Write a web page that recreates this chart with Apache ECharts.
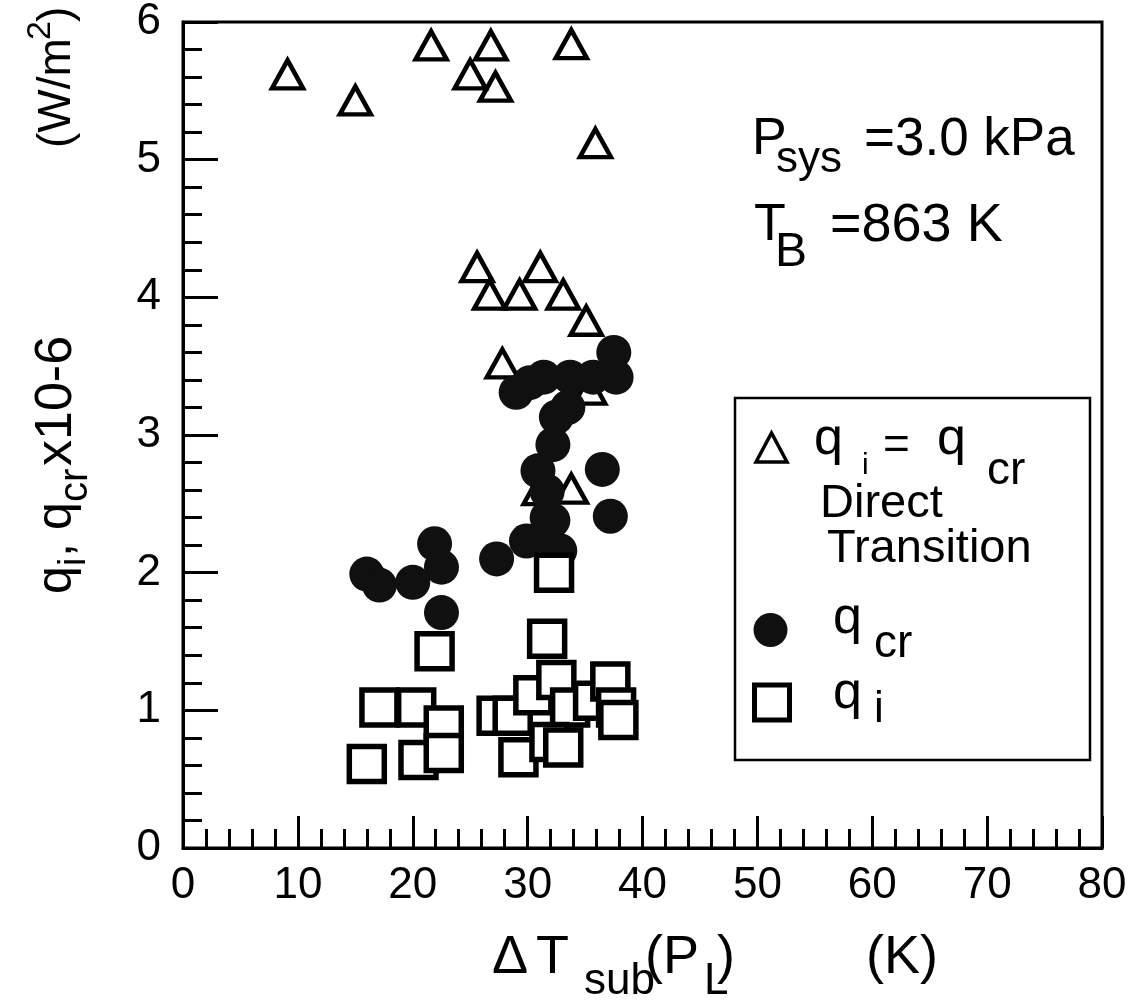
<!DOCTYPE html>
<html>
<head>
<meta charset="utf-8">
<title>Critical heat flux vs subcooling</title>
<script src="https://cdn.jsdelivr.net/npm/echarts@6/dist/echarts.min.js"></script>
<style>
  html, body { margin: 0; padding: 0; background: #fff; }
  #chart { width: 1142px; height: 1008px; }
</style>
</head>
<body>
<div id="chart"></div>
<script>
// ΔT_sub (K), q x10^-6 (W/m^2)
// Direct transition points (q_i = q_cr)
const directTransition = [
  [9.1, 5.62], [15.0, 5.43], [21.6, 5.83], [26.8, 5.83], [33.8, 5.84],
  [25.0, 5.62], [27.2, 5.53], [35.9, 5.12], [25.6, 4.22], [31.1, 4.22],
  [26.7, 4.02], [29.3, 4.02], [33.1, 4.02], [35.1, 3.83], [27.8, 3.52],
  [35.4, 3.33], [33.8, 2.61], [31.0, 2.60]
];
// Critical heat flux q_cr
const qCritical = [
  [16.0, 1.99], [17.1, 1.91], [20.0, 1.93], [21.9, 2.21], [22.5, 2.04], [22.5, 1.71],
  [27.3, 2.10], [29.9, 2.23], [32.2, 2.38], [32.8, 2.16], [31.7, 2.26], [31.7, 2.40],
  [31.7, 2.59], [30.9, 2.74], [32.2, 2.93], [32.5, 3.13], [33.5, 3.20], [29.0, 3.31],
  [30.2, 3.38], [31.4, 3.42], [33.7, 3.42], [35.7, 3.42], [37.5, 3.60], [37.7, 3.42],
  [36.5, 2.75], [37.2, 2.41]
];
// Incipient heat flux q_i
const qIncipient = [
  [16.0, 0.61], [17.1, 1.02], [20.3, 1.02], [20.5, 0.64], [21.9, 1.43], [22.7, 0.89],
  [22.7, 0.69], [27.3, 0.96], [28.7, 0.96], [29.2, 0.66], [30.5, 1.11], [31.7, 1.52],
  [32.3, 2.00], [32.5, 1.22], [33.7, 1.02], [35.7, 1.07], [37.2, 1.21], [37.7, 1.02],
  [37.9, 0.93], [31.9, 0.77], [33.1, 0.73]
];
const xRange = { min: 0, max: 80, step: 10 };
const yRange = { min: 0, max: 6, step: 1 };

const FONT = '"Liberation Sans", Arial, Helvetica, sans-serif';
const INK = '#000';
const DOT_FILL = '#101010';

// plain text piece, left-aligned, vertically centred on y
function label(x, y, text, size, extra) {
  return Object.assign({
    type: 'text', x: x, y: y, silent: true, z: 12,
    style: { text: text, font: size + 'px ' + FONT, fill: INK, align: 'left', verticalAlign: 'middle' }
  }, extra || {});
}
// text piece turned to read upward, starting at y, centred on x
function upLabel(x, y, text, size) {
  return label(x, y, text, size, { rotation: Math.PI / 2 });
}

const chart = echarts.init(document.getElementById('chart'), null, { renderer: 'canvas' });

const axisCommon = {
  type: 'value',
  axisLine: { show: true, onZero: false, lineStyle: { color: INK, width: 3 } },
  axisTick: { show: true, inside: true, lineStyle: { color: INK, width: 3 } },
  minorTick: { show: true, splitNumber: 5, length: 19, lineStyle: { color: INK, width: 3 } },
  splitLine: { show: false },
  minorSplitLine: { show: false }
};

const option = {
  animation: false,
  backgroundColor: '#fff',
  grid: { left: 183, right: 40, top: 20, bottom: 160, show: true, borderColor: INK, borderWidth: 3 },
  xAxis: Object.assign({}, axisCommon, {
    min: xRange.min, max: xRange.max, interval: xRange.step,
    axisTick: Object.assign({}, axisCommon.axisTick, { length: 32 }),
    axisLabel: { color: INK, fontSize: 44, fontFamily: FONT, margin: 16 }
  }),
  yAxis: Object.assign({}, axisCommon, {
    min: yRange.min, max: yRange.max, interval: yRange.step,
    axisTick: Object.assign({}, axisCommon.axisTick, { length: 35 }),
    axisLabel: { color: INK, fontSize: 44, fontFamily: FONT, margin: 22 }
  }),
  series: [
    {
      name: 'direct', type: 'scatter', data: directTransition, z: 2,
      symbol: 'triangle', symbolSize: [31, 28],
      itemStyle: { color: 'rgba(0,0,0,0)', borderColor: INK, borderWidth: 4.5, opacity: 1 },
      emphasis: { disabled: true }
    },
    {
      name: 'qcr', type: 'scatter', data: qCritical, z: 3,
      symbol: 'circle', symbolSize: 35,
      itemStyle: {
        color: DOT_FILL, opacity: 1,
        decal: { symbol: 'circle', symbolSize: 0.45, color: 'rgba(255,255,255,0.22)', dashArrayX: [[2, 3]], dashArrayY: [2, 3], rotation: 0.4 }
      },
      emphasis: { disabled: true }
    },
    {
      name: 'qi', type: 'scatter', data: qIncipient, z: 4,
      symbol: 'rect', symbolSize: 35,
      itemStyle: { color: '#fff', borderColor: INK, borderWidth: 5.5, opacity: 1 },
      emphasis: { disabled: true }
    }
  ],
  graphic: [
    // conditions
    label(752, 140, 'P', 52),
    label(776, 160, 'sys', 44),
    label(864, 140, '=3.0 kPa', 53),
    label(754, 226, 'T', 52),
    label(775, 253, 'B', 48),
    label(830, 226, '=863 K', 54),

    // legend box
    { type: 'rect', shape: { x: 735, y: 398, width: 355, height: 362 },
      style: { fill: '#fff', stroke: INK, lineWidth: 2.5 }, z: 10 },
    { type: 'polygon', shape: { points: [[756, 462], [771.5, 433], [787, 462]] },
      style: { fill: 'none', stroke: INK, lineWidth: 3.5 }, z: 11 },
    { type: 'circle', shape: { cx: 770.5, cy: 630, r: 17 }, style: { fill: DOT_FILL }, z: 11 },
    { type: 'rect', shape: { x: 754.5, y: 685, width: 35, height: 35 },
      style: { fill: '#fff', stroke: INK, lineWidth: 5 }, z: 11 },
    label(814, 440, 'q', 52),
    label(862, 466, 'i', 30),
    label(883, 446, '=', 46),
    label(937, 440, 'q', 52),
    label(987, 471, 'cr', 46),
    label(820, 504, 'Direct', 47),
    label(827, 549, 'Transition', 47),
    label(833, 619, 'q', 52),
    label(874, 644, 'cr', 46),
    label(833, 694, 'q', 52),
    label(874, 710, 'i', 44),

    // x axis title
    label(492, 958, 'Δ', 54),
    label(536, 958, 'T', 54),
    label(584, 982, 'sub', 44),
    label(645, 958, '(P', 54),
    label(704, 982, 'L', 44),
    label(717, 958, ')', 54),
    label(866, 958, '(K)', 54),

    // y axis title, reading upward
    upLabel(57, 594, 'q', 50),
    upLabel(75, 566, 'i', 38),
    upLabel(57, 557, ',', 50),
    upLabel(57, 530, 'q', 50),
    upLabel(76, 502, 'cr', 40),
    upLabel(57, 466, 'x10-6', 52),
    upLabel(57, 148, '(W/m', 46),
    upLabel(41, 40, '2', 34),
    upLabel(57, 22, ')', 46)
  ]
};

chart.setOption(option);
</script>
</body>
</html>
